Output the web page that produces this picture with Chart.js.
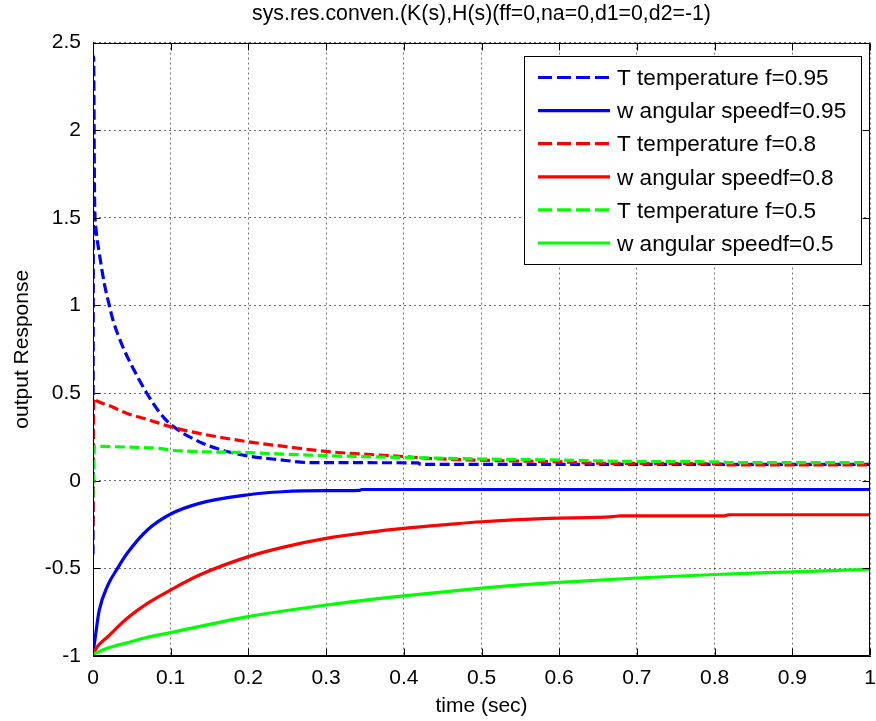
<!DOCTYPE html>
<html><head><meta charset="utf-8">
<script src="https://cdn.jsdelivr.net/npm/chart.js@4"></script>
<style>html,body{margin:0;padding:0;background:#fff;overflow:hidden}</style>
</head><body>
<canvas id="c" width="876" height="721"></canvas>
<script>
// ---- text ----
const titleText = 'sys.res.conven.(K(s),H(s)(ff=0,na=0,d1=0,d2=-1)';
const xTitle = 'time (sec)';
const yTitle = 'output Response';
const xTickLabels = ['0','0.1','0.2','0.3','0.4','0.5','0.6','0.7','0.8','0.9','1'];
const yTickLabels = ['-1','-0.5','0','0.5','1','1.5','2','2.5'];
const seriesLabels = ['T temperature f=0.95','w angular speedf=0.95','T temperature f=0.8','w angular speedf=0.8','T temperature f=0.5','w angular speedf=0.5'];

// ---- data ----
const t_T95 = [0, 0.0008, 0.002, 0.004, 0.0084, 0.0148, 0.021, 0.0255, 0.0384, 0.0512, 0.0685, 0.0856, 0.0985, 0.137, 0.17, 0.2, 0.244, 0.28, 0.418, 0.422, 1.0];
const v_T95 = [-0.42, 2.42, 1.62, 1.43, 1.29, 1.12, 1.0, 0.92, 0.764, 0.645, 0.505, 0.39, 0.327, 0.222, 0.17, 0.141, 0.118, 0.103, 0.102, 0.093, 0.093];

const t_W95 = [0, 0.0036, 0.008, 0.0187, 0.0315, 0.044, 0.07, 0.1, 0.137, 0.2, 0.244, 0.3, 0.343, 0.346, 1.0];
const v_W95 = [-0.99, -0.87, -0.74, -0.60, -0.50, -0.414, -0.281, -0.19, -0.129, -0.08, -0.063, -0.057, -0.055, -0.05, -0.05];

const t_T80 = [0, 0.001, 0.005, 0.019, 0.044, 0.07, 0.1, 0.137, 0.2, 0.244, 0.3, 0.4, 0.43, 0.5, 0.6, 0.65, 0.81, 0.82, 1.0];
const v_T80 = [-0.26, 0.47, 0.455, 0.432, 0.384, 0.35, 0.308, 0.27, 0.222, 0.197, 0.167, 0.138, 0.128, 0.117, 0.108, 0.1, 0.095, 0.09, 0.09];

const t_W80 = [0, 0.005, 0.019, 0.044, 0.07, 0.1, 0.137, 0.2, 0.244, 0.3, 0.352, 0.4, 0.458, 0.5, 0.587, 0.669, 0.678, 0.813, 0.818, 1.0];
const v_W80 = [-0.99, -0.95, -0.89, -0.785, -0.70, -0.623, -0.538, -0.433, -0.38, -0.329, -0.296, -0.272, -0.249, -0.234, -0.215, -0.205, -0.2, -0.2, -0.194, -0.194];

const t_T50 = [0, 0.002, 0.019, 0.044, 0.07, 0.085, 0.1, 0.2, 0.3, 0.4, 0.5, 0.6, 0.7, 0.81, 0.82, 1.0];
const v_T50 = [-0.1, 0.197, 0.195, 0.192, 0.188, 0.185, 0.175, 0.16, 0.143, 0.133, 0.124, 0.118, 0.11, 0.107, 0.103, 0.103];

const t_W50 = [0, 0.019, 0.044, 0.07, 0.1, 0.2, 0.3, 0.4, 0.5, 0.533, 0.6, 0.7, 0.8, 0.9, 1.0];
const v_W50 = [-0.99, -0.955, -0.924, -0.893, -0.866, -0.775, -0.709, -0.657, -0.613, -0.60, -0.58, -0.555, -0.535, -0.52, -0.505];

// ---- build ----
const FONT = "'Liberation Sans', Arial, sans-serif";
const pts = (ts, vs) => ts.map((t, i) => ({x: t, y: vs[i]}));
const seriesData = [pts(t_T95, v_T95), pts(t_W95, v_W95), pts(t_T80, v_T80), pts(t_W80, v_W80), pts(t_T50, v_T50), pts(t_W50, v_W50)];
const colors = ['#0000ff', '#0000ff', '#ff0000', '#ff0000', '#00ff00', '#00ff00'];
const dashed = [true, false, true, false, true, false];
const DASH = [10, 4.5];

const datasets = seriesData.map((d, i) => ({
  label: seriesLabels[i],
  data: d,
  borderColor: colors[i],
  backgroundColor: colors[i],
  borderWidth: 3.2,
  borderDash: dashed[i] ? DASH : [],
  borderCapStyle: 'butt',
  borderJoinStyle: 'bevel',
  cubicInterpolationMode: 'monotone',
  pointRadius: 0,
  fill: false,
  order: 6 - i
}));

const boxPlugin = {
  id: 'matlabBox',
  afterDatasetsDraw(chart) {
    const ctx = chart.ctx;
    const a = chart.chartArea;
    const xs = chart.scales.x, ys = chart.scales.y;
    ctx.save();
    ctx.strokeStyle = '#000';
    ctx.lineWidth = 1;
    ctx.setLineDash([]);
    const L = Math.round(a.left) + 0.5, R = Math.round(a.right) - 0.5, T = Math.round(a.top) + 0.5, B = Math.round(a.bottom) - 0.5;
    ctx.beginPath();
    ctx.rect(L, T, R - L, B - T);
    ctx.stroke();
    const TL = 7;
    ctx.beginPath();
    xs.ticks.forEach(tk => {
      const px = Math.round(xs.getPixelForValue(tk.value)) + 0.5;
      ctx.moveTo(px, B); ctx.lineTo(px, B - TL);
      ctx.moveTo(px, T); ctx.lineTo(px, T + TL);
    });
    ys.ticks.forEach(tk => {
      const py = Math.round(ys.getPixelForValue(tk.value)) + 0.5;
      ctx.moveTo(L, py); ctx.lineTo(L + TL, py);
      ctx.moveTo(R, py); ctx.lineTo(R - TL, py);
    });
    ctx.stroke();

    // legend
    const lx = 524.5, ly = 56.5, lw = 337, lh = 208;
    ctx.fillStyle = '#fff';
    ctx.fillRect(lx, ly, lw, lh);
    ctx.strokeStyle = '#000';
    ctx.lineWidth = 1;
    ctx.strokeRect(lx, ly, lw, lh);
    ctx.font = '22.6px ' + FONT;
    ctx.textBaseline = 'middle';
    ctx.textAlign = 'left';
    chart.data.datasets.forEach((ds, i) => {
      const y = 77.5 + i * 33.1;
      ctx.strokeStyle = ds.borderColor;
      ctx.lineWidth = 3.2;
      ctx.lineCap = 'butt';
      ctx.setLineDash(ds.borderDash.length ? [14, 5] : []);
      ctx.beginPath();
      ctx.moveTo(538, y); ctx.lineTo(610, y);
      ctx.stroke();
      ctx.setLineDash([]);
      ctx.fillStyle = '#000';
      ctx.fillText(ds.label, 617, y + 1.5);
    });
    ctx.restore();
  }
};

new Chart(document.getElementById('c'), {
  type: 'line',
  data: { datasets },
  options: {
    responsive: false,
    animation: false,
    devicePixelRatio: 1,
    layout: { padding: { left: 0, right: 6, top: 0, bottom: 0 } },
    plugins: {
      legend: { display: false },
      tooltip: { enabled: false },
      title: {
        display: true,
        fullSize: false,
        text: titleText,
        color: '#000',
        font: { family: FONT, size: 21.3, weight: 'normal', lineHeight: 1.2 },
        padding: { top: 1.5, bottom: 15.5 }
      }
    },
    scales: {
      x: {
        type: 'linear',
        min: 0, max: 1,
        afterFit: s => { s.height = 65; s.paddingLeft = 0; s.paddingRight = 0; },
        ticks: {
          stepSize: 0.1,
          autoSkip: false,
          maxRotation: 0,
          padding: 10,
          color: '#000',
          font: { family: FONT, size: 21 },
          callback: (v, i) => xTickLabels[i]
        },
        grid: { color: 'rgba(0,0,0,0.55)', lineWidth: 1, drawTicks: false },
        border: { display: true, color: '#000', width: 1, dash: [2, 3] },
        title: { display: true, text: xTitle, color: '#000', font: { family: FONT, size: 21 }, padding: { top: 0, bottom: 2.4 } }
      },
      y: {
        type: 'linear',
        min: -1, max: 2.5,
        afterFit: s => { s.width = 93; s.paddingTop = 0; s.paddingBottom = 0; },
        ticks: {
          stepSize: 0.5,
          autoSkip: false,
          padding: 12,
          color: '#000',
          font: { family: FONT, size: 21 },
          callback: (v, i) => yTickLabels[i]
        },
        grid: { color: 'rgba(0,0,0,0.55)', lineWidth: 1, drawTicks: false },
        border: { display: true, color: '#000', width: 1, dash: [2, 3] },
        title: { display: true, text: yTitle, color: '#000', font: { family: FONT, size: 21 }, padding: { top: 9.4, bottom: 0 } }
      }
    }
  },
  plugins: [boxPlugin]
});
</script>
</body></html>
